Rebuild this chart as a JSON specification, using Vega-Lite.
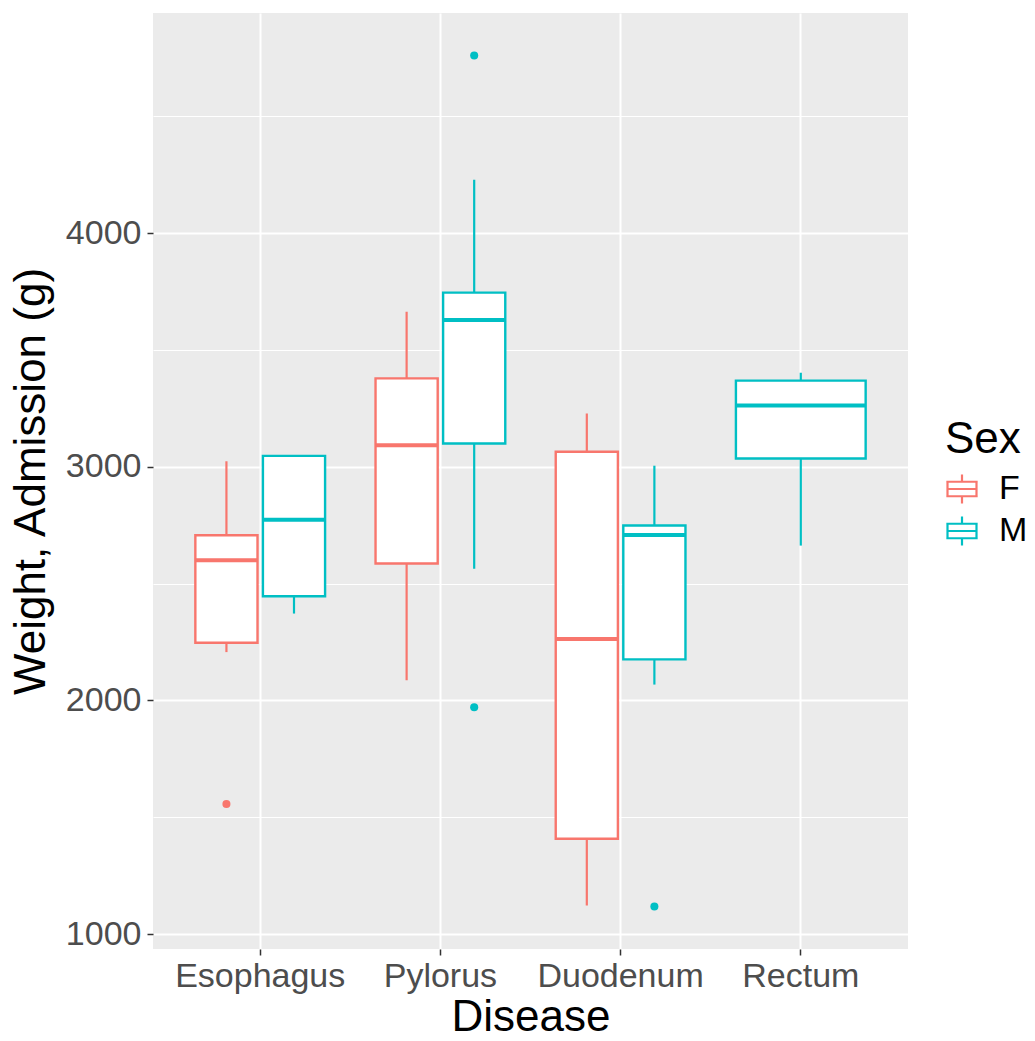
{
  "$schema": "https://vega.github.io/schema/vega-lite/v6.json",
  "autosize": {"type": "none"},
  "padding": {"left": 153, "top": 13, "right": 127, "bottom": 92},
  "width": 755,
  "height": 936,
  "datasets": {
    "boxes": [
      {"Disease": "Esophagus", "Sex": "F", "lower": 2207, "q1": 2247, "median": 2600, "q3": 2707, "upper": 3024},
      {"Disease": "Esophagus", "Sex": "M", "lower": 2372, "q1": 2446, "median": 2774, "q3": 3047, "upper": 3047},
      {"Disease": "Pylorus", "Sex": "F", "lower": 2086, "q1": 2586, "median": 3093, "q3": 3379, "upper": 3664},
      {"Disease": "Pylorus", "Sex": "M", "lower": 2564, "q1": 3100, "median": 3629, "q3": 3746, "upper": 4229},
      {"Disease": "Duodenum", "Sex": "F", "lower": 1122, "q1": 1408, "median": 2263, "q3": 3065, "upper": 3229},
      {"Disease": "Duodenum", "Sex": "M", "lower": 2068, "q1": 2176, "median": 2708, "q3": 2749, "upper": 3005},
      {"Disease": "Rectum", "Sex": "M", "lower": 2663, "q1": 3036, "median": 3263, "q3": 3369, "upper": 3403}
    ],
    "outliers": [
      {"Disease": "Esophagus", "Sex": "F", "weight": 1557},
      {"Disease": "Pylorus", "Sex": "M", "weight": 4761},
      {"Disease": "Pylorus", "Sex": "M", "weight": 1971},
      {"Disease": "Duodenum", "Sex": "M", "weight": 1118}
    ]
  },
  "encoding": {
    "x": {
      "field": "Disease",
      "type": "nominal",
      "sort": ["Esophagus", "Pylorus", "Duodenum", "Rectum"],
      "scale": {"paddingInner": 0.28, "paddingOuter": 0.235},
      "title": "Disease",
      "axis": {"labelAngle": 0, "bandPosition": 0.5, "labelPadding": 4, "titlePadding": 2}
    }
  },
  "layer": [
    {
      "data": {"name": "boxes"},
      "transform": [
        {"joinaggregate": [{"op": "count", "as": "n"}], "groupby": ["Disease"]},
        {"filter": "datum.n == 2"}
      ],
      "encoding": {
        "xOffset": {"field": "Sex", "type": "nominal", "sort": ["F", "M"], "scale": {"paddingInner": 0.08, "paddingOuter": 0}}
      },
      "layer": [
        {
          "mark": {"type": "rule", "strokeWidth": 2.2},
          "encoding": {
            "color": {
              "field": "Sex",
              "type": "nominal",
              "scale": {"domain": ["F", "M"], "range": ["#F8766D", "#00BFC4"]},
              "legend": {
                "title": "Sex",
                "orient": "none",
                "legendX": 792,
                "legendY": 405,
                "titleFontSize": 44,
                "titleFontWeight": "normal",
                "titleColor": "#000000",
                "titlePadding": 10,
                "labelFontSize": 34,
                "labelColor": "#000000",
                "labelOffset": 20,
                "rowPadding": 4,
                "symbolType": "M-1.08,-0.5H1.08 M1,-0.5V0.5 M1.08,0.5H-1.08 M-1,0.5V-0.5 M-1,0H1 M0,-1V-0.5 M0,0.5V1",
                "symbolSize": 841,
                "symbolStrokeWidth": 2.2,
                "symbolFillColor": "white"
              }
            },
            "y": {"field": "lower", "type": "quantitative", "title": "Weight, Admission (g)", "scale": {"domain": [936, 4943], "zero": false, "nice": false},
              "axis": {
                "values": [1000, 1500, 2000, 2500, 3000, 3500, 4000, 4500],
                "labelExpr": "datum.value % 1000 === 0 ? format(datum.value, 'd') : ''",
                "gridWidth": {"condition": {"test": "datum.value % 1000 === 0", "value": 2}, "value": 1},
                "tickOpacity": {"condition": {"test": "datum.value % 1000 === 0", "value": 1}, "value": 0},
                "labelPadding": 6,
                "titlePadding": 12
              }
            },
            "y2": {"field": "upper"}
          }
        },
        {
          "mark": {"type": "bar", "fill": "white", "strokeWidth": 2.4},
          "encoding": {
            "stroke": {"field": "Sex", "type": "nominal", "scale": {"domain": ["F", "M"], "range": ["#F8766D", "#00BFC4"]}, "legend": null},
            "y": {"field": "q1", "type": "quantitative", "title": "Weight, Admission (g)", "scale": {"domain": [936, 4943], "zero": false, "nice": false}},
            "y2": {"field": "q3"}
          }
        },
        {
          "mark": {"type": "bar", "fill": "white", "strokeWidth": 4},
          "encoding": {
            "stroke": {"field": "Sex", "type": "nominal", "scale": {"domain": ["F", "M"], "range": ["#F8766D", "#00BFC4"]}, "legend": null},
            "y": {"field": "median", "type": "quantitative", "title": "Weight, Admission (g)", "scale": {"domain": [936, 4943], "zero": false, "nice": false}},
            "y2": {"field": "median"}
          }
        }
      ]
    },
    {
      "data": {"name": "boxes"},
      "transform": [
        {"joinaggregate": [{"op": "count", "as": "n"}], "groupby": ["Disease"]},
        {"filter": "datum.n == 1"}
      ],
      "layer": [
        {
          "mark": {"type": "rule", "strokeWidth": 2.2},
          "encoding": {
            "color": {"field": "Sex", "type": "nominal", "scale": {"domain": ["F", "M"], "range": ["#F8766D", "#00BFC4"]}},
            "y": {"field": "lower", "type": "quantitative", "title": "Weight, Admission (g)", "scale": {"domain": [936, 4943], "zero": false, "nice": false}},
            "y2": {"field": "upper"}
          }
        },
        {
          "mark": {"type": "bar", "fill": "white", "strokeWidth": 2.4},
          "encoding": {
            "stroke": {"field": "Sex", "type": "nominal", "scale": {"domain": ["F", "M"], "range": ["#F8766D", "#00BFC4"]}, "legend": null},
            "y": {"field": "q1", "type": "quantitative", "title": "Weight, Admission (g)", "scale": {"domain": [936, 4943], "zero": false, "nice": false}},
            "y2": {"field": "q3"}
          }
        },
        {
          "mark": {"type": "bar", "fill": "white", "strokeWidth": 4},
          "encoding": {
            "stroke": {"field": "Sex", "type": "nominal", "scale": {"domain": ["F", "M"], "range": ["#F8766D", "#00BFC4"]}, "legend": null},
            "y": {"field": "median", "type": "quantitative", "title": "Weight, Admission (g)", "scale": {"domain": [936, 4943], "zero": false, "nice": false}},
            "y2": {"field": "median"}
          }
        }
      ]
    },
    {
      "data": {"name": "outliers"},
      "mark": {"type": "point", "filled": true, "shape": "circle", "size": 65, "opacity": 1},
      "encoding": {
        "xOffset": {"field": "Sex", "type": "nominal", "sort": ["F", "M"]},
        "fill": {"field": "Sex", "type": "nominal", "scale": {"domain": ["F", "M"], "range": ["#F8766D", "#00BFC4"]}, "legend": null},
        "y": {"field": "weight", "type": "quantitative", "title": "Weight, Admission (g)", "scale": {"domain": [936, 4943], "zero": false, "nice": false}}
      }
    }
  ],
  "config": {
    "font": "Liberation Sans",
    "view": {"fill": "#EBEBEB", "stroke": null},
    "axis": {
      "domain": false,
      "grid": true,
      "gridColor": "#FFFFFF",
      "gridWidth": 2,
      "tickColor": "#333333",
      "tickSize": 6,
      "tickWidth": 1.5,
      "labelFontSize": 34,
      "labelColor": "#4D4D4D",
      "titleFontSize": 44,
      "titleFontWeight": "normal",
      "titleColor": "#000000"
    }
  }
}
